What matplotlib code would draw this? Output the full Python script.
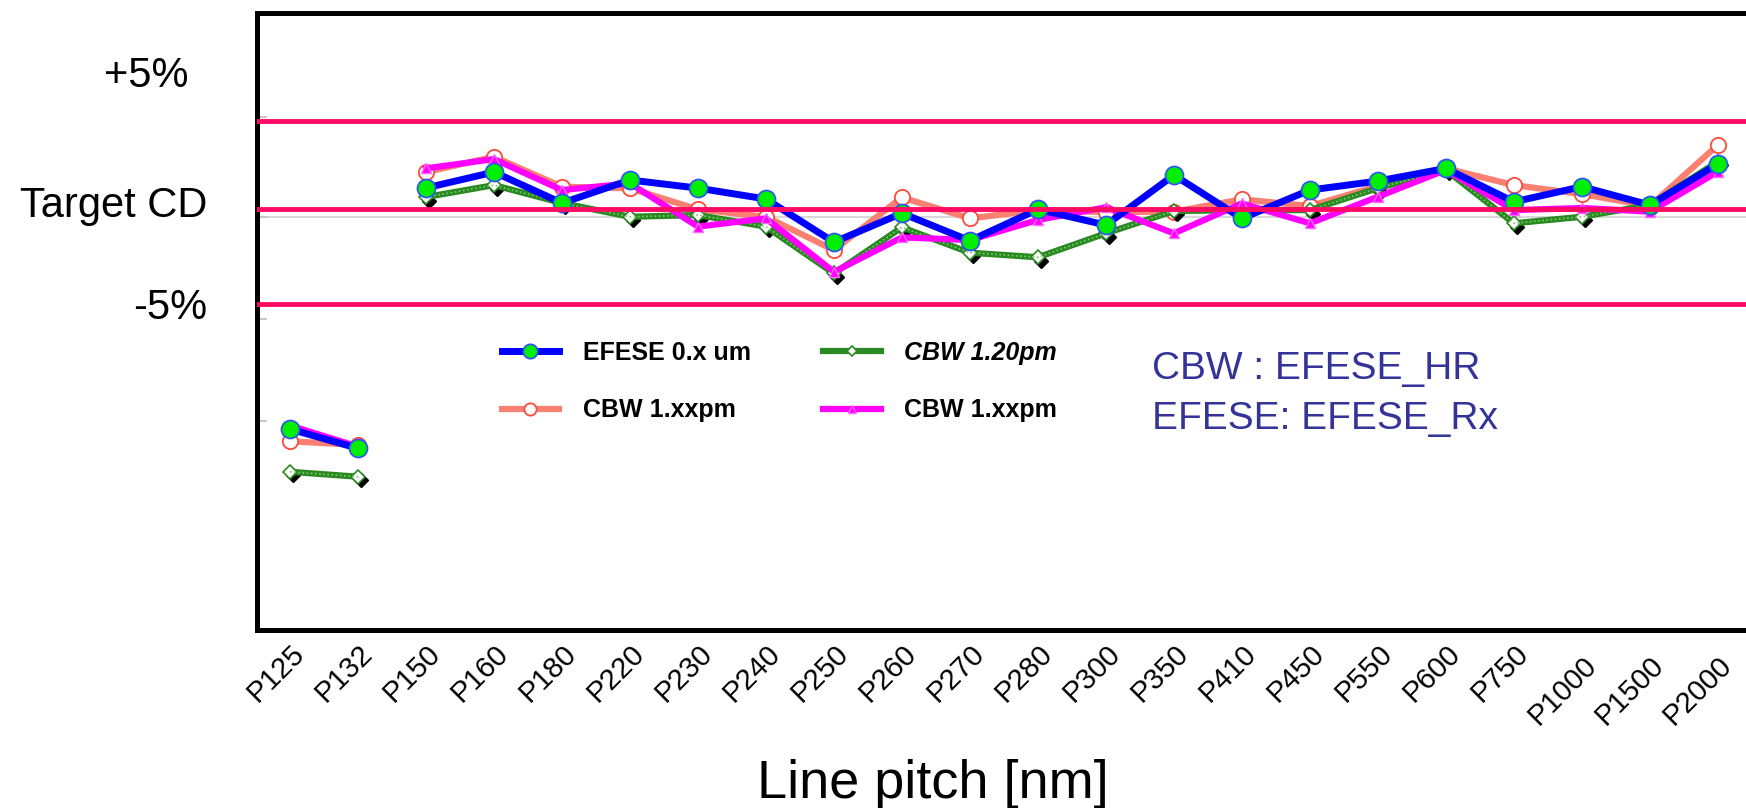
import numpy as np
import matplotlib
matplotlib.use("Agg")
import matplotlib.pyplot as plt
import matplotlib.transforms as mtransforms

plt.rcParams["font.family"] = ["Liberation Sans", "DejaVu Sans"]

# DATI: scostamento dal target CD in %
pitch = ["P125", "P132", "P150", "P160", "P180", "P220", "P230", "P240", "P250", "P260", "P270",
         "P280", "P300", "P350", "P410", "P450", "P550", "P600", "P750", "P1000", "P1500", "P2000"]

efese = [-12.5, -13.6, 1.2, 2.1, 0.34, 1.65, 1.19, 0.57, -1.88, -0.24, -1.8,
         -0.02, -0.91, 1.93, -0.53, 1.08, 1.59, 2.31, 0.41, 1.27, 0.23, 2.56]
cbw_salmon = [-13.2, -13.4, 2.1, 2.97, 1.27, 1.18, -0.02, -0.44, -2.33, 0.66, -0.53,
              -0.06, -0.17, -0.15, 0.55, 0.17, 1.31, 2.31, 1.36, 0.85, 0.17, 3.64]
cbw_120 = [-14.93, -15.21, 0.68, 1.36, 0.34, -0.44, -0.34, -1.0, -3.66, -1.04, -2.48,
           -2.74, -1.38, -0.11, -0.06, -0.06, 1.19, 2.22, -0.81, -0.44, 0.23, 2.69]
cbw_magenta = [-12.3, -13.5, 2.31, 2.84, 1.08, 1.46, -1.0, -0.53, -3.57, -1.61, -1.76,
               -0.62, 0.1, -1.38, 0.32, -0.81, 0.7, 2.22, -0.06, 0.06, -0.15, 2.12]

limiti = [5.0, 0.0, -5.4]          # +5%, target, -5%
etichette_y = ["+5%", "Target CD", "-5%"]
pos_etichette_y = [7.56, 0.17, -5.63]
tacche_y = [5.23, -0.45, -6.25, -12.05]

x = np.arange(len(pitch))
segmenti = [slice(0, 2), slice(2, len(pitch))]   # P125-P132 staccati dal resto

fig = plt.figure(figsize=(17.46, 8.08), dpi=100)
ax = fig.add_axes([257 / 1746, 178 / 808, (1760 - 257) / 1746, 617 / 808])

# linea grigia del target originale
ax.axhline(tacche_y[1], color="#d8d8d8", lw=1.5, zorder=1)

for s in segmenti:
    ax.plot(x[s], np.array(cbw_salmon)[s], color="#FA8072", lw=4.5, marker="o", ms=11,
            mfc="white", mec="#FF4A3A", mew=1.3, zorder=3,
            label="CBW 1.xxpm" if s.start == 0 else None)

# ombra nera dei rombi
ombra = mtransforms.offset_copy(ax.transData, fig=fig, x=2.5, y=-2.5, units="points")
for s in segmenti:
    ax.plot(x[s], np.array(cbw_120)[s], ls="none", marker="D", ms=7, color="black",
            transform=ombra, zorder=3.5)
    ax.plot(x[s], np.array(cbw_120)[s], color="#2A8A22", lw=4.5, marker="D", ms=7,
            mfc="white", mec="#2A8A22", mew=1.2, zorder=4,
            label="CBW 1.20pm" if s.start == 0 else None)
    ax.plot(x[s], np.array(cbw_120)[s], color="#7cc46e", lw=1.2, ls=(0, (1, 1.5)), zorder=4.1)

for s in segmenti:
    ax.plot(x[s], np.array(cbw_magenta)[s], color="#FF00FF", lw=4.5, marker="^", ms=7,
            mfc="#FF00FF", mec="#FF66FF", zorder=5,
            label="CBW 1.xxpm" if s.start == 0 else None)

for s in segmenti:
    ax.plot(x[s], np.array(efese)[s], color="#0000FF", lw=5, marker="o", ms=13,
            mfc="#00EE00", mec="#3050FF", mew=1.2, zorder=6,
            label="EFESE 0.x um" if s.start == 0 else None)

for v in limiti:
    ax.axhline(v, color="#FF0A64", lw=3.5, zorder=7)

ax.set_xlim(-0.485, 21.62)
ax.set_ylim(-23.92, 11.14)

ax.set_xticks(x)
ax.set_xticklabels(pitch, rotation=45, ha="right", va="center", rotation_mode="anchor",
                   fontsize=21)
ax.tick_params(axis="x", length=0, pad=22)
# sposto le etichette in alto a destra, le ultime tre un po' piu' in basso
for i, t in enumerate(ax.get_xticklabels()):
    dx, dy = (0.10, 0.11) if i < 19 else (0.10, 0.0)
    t.set_transform(t.get_transform() + mtransforms.ScaledTranslation(dx, dy, fig.dpi_scale_trans))

ax.set_yticks(tacche_y)
ax.set_yticklabels([])
ax.tick_params(axis="y", direction="in", length=7, width=1.5, color="#c8c8c8")

for lato in ["left", "bottom", "top"]:
    ax.spines[lato].set_linewidth(3.6)
    ax.spines[lato].set_color("black")
ax.spines["right"].set_visible(False)

# etichette asse y come testo
xt = [188, 207, 207]
trasf_y = mtransforms.blended_transform_factory(fig.transFigure, ax.transData)
for lab, yv, xp in zip(etichette_y, pos_etichette_y, xt):
    ax.text(xp / 1746, yv, lab, transform=trasf_y, ha="right", va="center", fontsize=30)

fig.text(933 / 1746, 1 - 784 / 808, "Line pitch [nm]", ha="center", va="center", fontsize=39)

# legenda: colonna 1 EFESE / salmone, colonna 2 verde / magenta
h, l = ax.get_legend_handles_labels()
h = [h[3], h[0], h[1], h[2]]
l = [l[3], l[0], l[1], l[2]]
leg = ax.legend(h, l, ncol=2, loc="upper left", bbox_to_anchor=(222 / 1503, (630 - 318) / 617),
                frameon=False, prop={"weight": "bold", "size": 18},
                handlelength=2.3, handletextpad=0.95, columnspacing=2.9, labelspacing=1.35,
                markerscale=0.8)
leg.get_texts()[2].set_style("italic")

fig.text(1152 / 1746, 1 - 369 / 808, "CBW : EFESE_HR", ha="left", va="center",
         fontsize=28, color="#333399")
fig.text(1152 / 1746, 1 - 419 / 808, "EFESE: EFESE_Rx", ha="left", va="center",
         fontsize=28, color="#333399")

fig.savefig("out.png", dpi=100)
plt.close(fig)
